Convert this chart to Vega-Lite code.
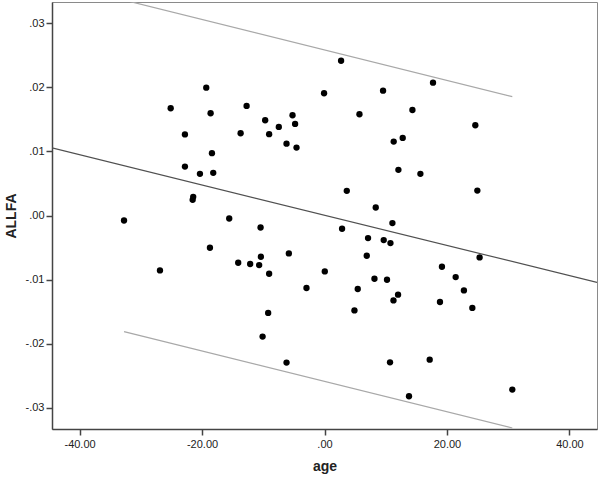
{
  "$schema": "https://vega.github.io/schema/vega-lite/v6.json",
  "autosize": "none",
  "padding": {"left": 52, "top": 2, "right": 3, "bottom": 48},
  "width": 545,
  "height": 427,
  "background": "white",
  "config": {
    "view": {"stroke": "#8a8a8a", "strokeWidth": 1},
    "font": "Liberation Sans",
    "axis": {
      "grid": false,
      "domainColor": "#444444",
      "domainWidth": 1.5,
      "tickColor": "#444444",
      "tickWidth": 1.5,
      "tickSize": 6,
      "labelFont": "Liberation Sans",
      "labelFontSize": 11,
      "labelColor": "#222222",
      "titleFont": "Liberation Sans",
      "titleFontSize": 14,
      "titleFontWeight": "bold",
      "titleColor": "#222222"
    }
  },
  "datasets": {
    "points": [
      {"age": -25.12, "ALLFA": 0.01673},
      {"age": -22.79, "ALLFA": 0.01265},
      {"age": -22.79, "ALLFA": 0.00763},
      {"age": -20.34, "ALLFA": 0.0065},
      {"age": -21.44, "ALLFA": 0.00291},
      {"age": -21.53, "ALLFA": 0.00245},
      {"age": -32.74, "ALLFA": -0.00078},
      {"age": -26.87, "ALLFA": -0.00857},
      {"age": 2.71, "ALLFA": 0.02414},
      {"age": -19.31, "ALLFA": 0.01994},
      {"age": -0.07, "ALLFA": 0.01907},
      {"age": 9.56, "ALLFA": 0.01947},
      {"age": -18.6, "ALLFA": 0.01595},
      {"age": -12.72, "ALLFA": 0.01709},
      {"age": 5.71, "ALLFA": 0.01579},
      {"age": -9.69, "ALLFA": 0.01486},
      {"age": -5.22, "ALLFA": 0.01564},
      {"age": -4.8, "ALLFA": 0.01428},
      {"age": -7.46, "ALLFA": 0.01382},
      {"age": -13.7, "ALLFA": 0.01283},
      {"age": -9.04, "ALLFA": 0.01268},
      {"age": -6.2, "ALLFA": 0.01121},
      {"age": -4.57, "ALLFA": 0.01059},
      {"age": -18.38, "ALLFA": 0.00972},
      {"age": -18.17, "ALLFA": 0.00665},
      {"age": 3.64, "ALLFA": 0.00385},
      {"age": 8.37, "ALLFA": 0.00125},
      {"age": -15.56, "ALLFA": -0.00047},
      {"age": 17.72, "ALLFA": 0.02072},
      {"age": 14.36, "ALLFA": 0.01646},
      {"age": 24.63, "ALLFA": 0.01408},
      {"age": 11.3, "ALLFA": 0.01153},
      {"age": 12.77, "ALLFA": 0.0121},
      {"age": 12.07, "ALLFA": 0.00712},
      {"age": 15.66, "ALLFA": 0.0065},
      {"age": 24.96, "ALLFA": 0.00389},
      {"age": -10.44, "ALLFA": -0.00187},
      {"age": -18.71, "ALLFA": -0.00503},
      {"age": -14.09, "ALLFA": -0.00737},
      {"age": -12.14, "ALLFA": -0.00757},
      {"age": -10.67, "ALLFA": -0.00773},
      {"age": -10.39, "ALLFA": -0.00643},
      {"age": -9.04, "ALLFA": -0.00908},
      {"age": -5.82, "ALLFA": -0.00592},
      {"age": 2.87, "ALLFA": -0.00207},
      {"age": 7.11, "ALLFA": -0.00352},
      {"age": 9.67, "ALLFA": -0.00383},
      {"age": 10.77, "ALLFA": -0.0043},
      {"age": 11.09, "ALLFA": -0.00118},
      {"age": 6.9, "ALLFA": -0.00628},
      {"age": 0.05, "ALLFA": -0.00872},
      {"age": 8.16, "ALLFA": -0.00986},
      {"age": 10.21, "ALLFA": -0.01002},
      {"age": -2.94, "ALLFA": -0.01131},
      {"age": 5.43, "ALLFA": -0.01146},
      {"age": -9.2, "ALLFA": -0.0152},
      {"age": 4.89, "ALLFA": -0.0148},
      {"age": -10.11, "ALLFA": -0.01889},
      {"age": -6.2, "ALLFA": -0.02294},
      {"age": 10.7, "ALLFA": -0.0229},
      {"age": 25.33, "ALLFA": -0.00654},
      {"age": 19.18, "ALLFA": -0.00799},
      {"age": 21.42, "ALLFA": -0.0096},
      {"age": 22.77, "ALLFA": -0.01168},
      {"age": 12.01, "ALLFA": -0.01235},
      {"age": 11.26, "ALLFA": -0.01324},
      {"age": 18.86, "ALLFA": -0.01349},
      {"age": 24.14, "ALLFA": -0.01442},
      {"age": 17.18, "ALLFA": -0.02248},
      {"age": 30.67, "ALLFA": -0.02715},
      {"age": 13.8, "ALLFA": -0.02819}
    ],
    "fit": [
      {"age": -44.5, "ALLFA": 0.01054},
      {"age": 44.5, "ALLFA": -0.01044}
    ],
    "upper": [
      {"age": -32.74, "ALLFA": 0.0336},
      {"age": 30.67, "ALLFA": 0.01854}
    ],
    "lower": [
      {"age": -32.74, "ALLFA": -0.01811},
      {"age": 30.67, "ALLFA": -0.03315}
    ]
  },
  "encoding": {
    "x": {
      "field": "age",
      "type": "quantitative",
      "scale": {"domain": [-44.5, 44.5], "nice": false, "zero": false},
      "axis": {
        "title": "age",
        "values": [-40, -20, 0, 20, 40],
        "labelExpr": "(datum.value < 0 ? '-' : '') + (abs(datum.value) < 1e-9 ? '.00' : format(abs(datum.value), '.2f'))",
        "labelPadding": 3,
        "titlePadding": 10
      }
    },
    "y": {
      "field": "ALLFA",
      "type": "quantitative",
      "scale": {"domain": [-0.0333, 0.0333], "nice": false, "zero": false},
      "axis": {
        "title": "ALLFA",
        "values": [-0.03, -0.02, -0.01, 0, 0.01, 0.02, 0.03],
        "labelExpr": "(datum.value < -1e-9 ? '-' : '') + substring(format(abs(datum.value), '.2f'), 1)",
        "labelPadding": 2,
        "titlePadding": 7
      }
    }
  },
  "layer": [
    {
      "data": {"name": "upper"},
      "mark": {"type": "line", "color": "#a8a8a8", "strokeWidth": 1.2, "clip": true},
      "encoding": {}
    },
    {
      "data": {"name": "lower"},
      "mark": {"type": "line", "color": "#a8a8a8", "strokeWidth": 1.2, "clip": true},
      "encoding": {}
    },
    {
      "data": {"name": "fit"},
      "mark": {"type": "line", "color": "#505050", "strokeWidth": 1.2, "clip": true},
      "encoding": {}
    },
    {
      "data": {"name": "points"},
      "mark": {"type": "circle", "color": "#000000", "opacity": 1, "size": 40},
      "encoding": {}
    }
  ]
}
